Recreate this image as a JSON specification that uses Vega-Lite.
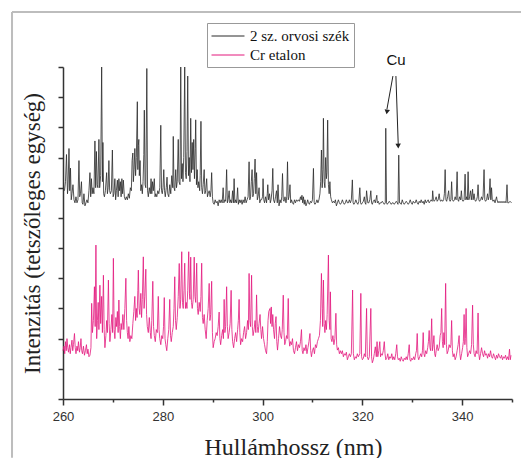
{
"$schema":"https://vega.github.io/schema/vega-lite/v6.json",
"width":449,"height":332,
"autosize":{"type":"none"},
"padding":{"left":63,"top":67,"right":9,"bottom":59},
"background":"white",
"config":{"view":{"stroke":null},"font":"Liberation Serif"},
"datasets":{
"black":[
{"w":260.3,"v":6.9},{"w":260.5,"v":7.2},{"w":260.7,"v":8.1},{"w":260.9,"v":6.8},{"w":261.0,"v":7.0},{"w":261.2,"v":8.3},{"w":261.35,"v":6.9},{"w":261.5,"v":7.65},{"w":261.65,"v":6.6},{"w":261.8,"v":6.8},{"w":262.0,"v":7.1},{"w":262.2,"v":6.6},{"w":262.4,"v":6.5},{"w":262.6,"v":6.7},{"w":262.8,"v":6.5},{"w":263.0,"v":6.6},{"w":263.2,"v":7.9},{"w":263.35,"v":6.7},{"w":263.5,"v":6.8},{"w":263.7,"v":7.2},{"w":263.85,"v":6.5},{"w":264.0,"v":6.45},{"w":264.2,"v":6.8},{"w":264.4,"v":6.4},{"w":264.6,"v":6.5},{"w":264.8,"v":6.6},{"w":265.0,"v":6.5},{"w":265.2,"v":6.9},{"w":265.4,"v":7.5},{"w":265.55,"v":6.7},{"w":265.7,"v":7.3},{"w":265.85,"v":6.8},{"w":266.0,"v":7.0},{"w":266.2,"v":6.8},{"w":266.4,"v":8.55},{"w":266.55,"v":7.0},{"w":266.7,"v":8.2},{"w":266.85,"v":7.1},{"w":267.0,"v":7.0},{"w":267.2,"v":8.6},{"w":267.35,"v":7.0},{"w":267.55,"v":7.4},{"w":267.75,"v":11},{"w":267.9,"v":7.2},{"w":268.0,"v":8.5},{"w":268.15,"v":6.8},{"w":268.3,"v":6.7},{"w":268.5,"v":6.9},{"w":268.75,"v":7.5},{"w":268.9,"v":6.8},{"w":269.05,"v":7.0},{"w":269.2,"v":7.9},{"w":269.35,"v":6.9},{"w":269.5,"v":6.8},{"w":269.7,"v":6.9},{"w":269.9,"v":8.25},{"w":270.05,"v":6.7},{"w":270.2,"v":6.8},{"w":270.4,"v":7.3},{"w":270.55,"v":6.6},{"w":270.7,"v":6.9},{"w":270.9,"v":7.25},{"w":271.05,"v":6.7},{"w":271.2,"v":7.3},{"w":271.35,"v":6.9},{"w":271.5,"v":7.2},{"w":271.65,"v":6.7},{"w":271.8,"v":7.3},{"w":271.95,"v":6.8},{"w":272.1,"v":7.25},{"w":272.3,"v":6.7},{"w":272.5,"v":6.6},{"w":272.7,"v":6.7},{"w":272.9,"v":6.6},{"w":273.1,"v":6.8},{"w":273.3,"v":6.65},{"w":273.5,"v":7.0},{"w":273.7,"v":6.9},{"w":273.85,"v":7.9},{"w":274.0,"v":8.15},{"w":274.1,"v":7.2},{"w":274.25,"v":7.6},{"w":274.4,"v":8.3},{"w":274.55,"v":7.4},{"w":274.7,"v":8.0},{"w":274.9,"v":9.85},{"w":275.0,"v":7.6},{"w":275.1,"v":8.4},{"w":275.2,"v":8.6},{"w":275.3,"v":7.4},{"w":275.45,"v":7.9},{"w":275.6,"v":6.9},{"w":275.75,"v":7.1},{"w":275.9,"v":6.8},{"w":276.05,"v":7.2},{"w":276.2,"v":8.1},{"w":276.3,"v":9.57},{"w":276.45,"v":7.1},{"w":276.6,"v":7.0},{"w":276.8,"v":10.95},{"w":276.95,"v":6.9},{"w":277.1,"v":6.7},{"w":277.3,"v":7.0},{"w":277.5,"v":6.8},{"w":277.65,"v":7.3},{"w":277.8,"v":6.8},{"w":277.95,"v":7.2},{"w":278.1,"v":6.9},{"w":278.3,"v":7.3},{"w":278.45,"v":6.7},{"w":278.6,"v":6.8},{"w":278.8,"v":6.7},{"w":279.0,"v":6.9},{"w":279.2,"v":6.8},{"w":279.4,"v":7.0},{"w":279.6,"v":9.07},{"w":279.75,"v":6.9},{"w":279.9,"v":6.8},{"w":280.05,"v":7.0},{"w":280.2,"v":7.6},{"w":280.35,"v":6.9},{"w":280.5,"v":6.7},{"w":280.7,"v":7.0},{"w":280.85,"v":7.35},{"w":281.0,"v":6.8},{"w":281.2,"v":6.7},{"w":281.4,"v":7.1},{"w":281.6,"v":6.8},{"w":281.8,"v":7.4},{"w":282.0,"v":7.0},{"w":282.1,"v":8.7},{"w":282.25,"v":7.0},{"w":282.4,"v":6.9},{"w":282.6,"v":7.6},{"w":282.75,"v":7.0},{"w":282.9,"v":7.2},{"w":283.1,"v":8.6},{"w":283.25,"v":7.2},{"w":283.45,"v":7.1},{"w":283.6,"v":11},{"w":283.75,"v":7.3},{"w":283.9,"v":7.8},{"w":284.05,"v":7.2},{"w":284.2,"v":8.0},{"w":284.4,"v":11},{"w":284.55,"v":7.5},{"w":284.7,"v":7.3},{"w":284.85,"v":8.2},{"w":285.0,"v":10.7},{"w":285.15,"v":7.4},{"w":285.3,"v":8.0},{"w":285.45,"v":7.2},{"w":285.6,"v":9.3},{"w":285.75,"v":7.5},{"w":285.9,"v":8.5},{"w":286.05,"v":7.6},{"w":286.2,"v":8.6},{"w":286.35,"v":7.3},{"w":286.5,"v":8.3},{"w":286.6,"v":9.25},{"w":286.75,"v":7.1},{"w":286.9,"v":7.6},{"w":287.05,"v":7.0},{"w":287.2,"v":7.2},{"w":287.4,"v":6.9},{"w":287.5,"v":7.4},{"w":287.65,"v":9.2},{"w":287.8,"v":7.0},{"w":287.95,"v":6.8},{"w":288.1,"v":7.1},{"w":288.3,"v":7.6},{"w":288.45,"v":6.8},{"w":288.6,"v":6.9},{"w":288.8,"v":7.3},{"w":288.95,"v":6.7},{"w":289.1,"v":6.8},{"w":289.3,"v":6.9},{"w":289.5,"v":6.7},{"w":289.65,"v":6.9},{"w":289.8,"v":7.5},{"w":289.95,"v":6.7},{"w":290.1,"v":6.5},{"w":290.3,"v":6.45},{"w":290.5,"v":6.6},{"w":290.7,"v":6.5},{"w":290.9,"v":6.55},{"w":291.1,"v":6.4},{"w":291.3,"v":6.6},{"w":291.5,"v":6.5},{"w":291.7,"v":6.6},{"w":291.9,"v":6.5},{"w":292.1,"v":7.0},{"w":292.25,"v":6.5},{"w":292.45,"v":6.6},{"w":292.6,"v":6.55},{"w":292.8,"v":7.6},{"w":292.95,"v":6.5},{"w":293.1,"v":6.6},{"w":293.3,"v":6.9},{"w":293.45,"v":6.5},{"w":293.6,"v":6.6},{"w":293.8,"v":6.5},{"w":294.0,"v":6.9},{"w":294.15,"v":6.5},{"w":294.3,"v":7.3},{"w":294.45,"v":6.5},{"w":294.6,"v":6.6},{"w":294.8,"v":6.5},{"w":295.0,"v":7.0},{"w":295.15,"v":6.45},{"w":295.35,"v":6.6},{"w":295.5,"v":6.5},{"w":295.7,"v":6.6},{"w":295.9,"v":6.45},{"w":296.1,"v":6.6},{"w":296.3,"v":6.5},{"w":296.5,"v":6.7},{"w":296.7,"v":6.5},{"w":296.9,"v":6.6},{"w":297.1,"v":6.7},{"w":297.3,"v":7.86},{"w":297.45,"v":6.6},{"w":297.6,"v":6.7},{"w":297.75,"v":7.2},{"w":297.9,"v":7.6},{"w":298.05,"v":6.7},{"w":298.2,"v":6.8},{"w":298.35,"v":7.3},{"w":298.5,"v":7.95},{"w":298.65,"v":6.8},{"w":298.8,"v":7.5},{"w":298.95,"v":6.6},{"w":299.1,"v":6.7},{"w":299.3,"v":7.0},{"w":299.45,"v":6.5},{"w":299.6,"v":6.6},{"w":299.8,"v":6.6},{"w":300.0,"v":6.7},{"w":300.1,"v":7.3},{"w":300.25,"v":6.6},{"w":300.4,"v":6.5},{"w":300.6,"v":6.7},{"w":300.8,"v":6.5},{"w":300.95,"v":6.8},{"w":301.05,"v":7.1},{"w":301.2,"v":6.6},{"w":301.4,"v":6.8},{"w":301.55,"v":6.5},{"w":301.7,"v":6.6},{"w":301.9,"v":6.9},{"w":302.05,"v":7.64},{"w":302.2,"v":6.6},{"w":302.4,"v":6.5},{"w":302.6,"v":6.7},{"w":302.8,"v":6.9},{"w":302.95,"v":6.5},{"w":303.1,"v":7.1},{"w":303.3,"v":6.4},{"w":303.5,"v":6.6},{"w":303.7,"v":6.5},{"w":303.85,"v":6.7},{"w":304.0,"v":7.47},{"w":304.15,"v":6.6},{"w":304.3,"v":6.55},{"w":304.5,"v":6.7},{"w":304.7,"v":6.5},{"w":304.85,"v":6.7},{"w":305.0,"v":7.86},{"w":305.15,"v":6.6},{"w":305.3,"v":6.7},{"w":305.5,"v":7.1},{"w":305.65,"v":6.5},{"w":305.8,"v":6.6},{"w":306.0,"v":6.5},{"w":306.2,"v":6.45},{"w":306.4,"v":6.6},{"w":306.6,"v":6.5},{"w":306.8,"v":6.6},{"w":307.0,"v":6.55},{"w":307.2,"v":6.6},{"w":307.4,"v":6.55},{"w":307.6,"v":6.7},{"w":307.75,"v":6.6},{"w":307.9,"v":6.75},{"w":308.05,"v":6.5},{"w":308.2,"v":6.7},{"w":308.35,"v":6.45},{"w":308.5,"v":6.6},{"w":308.7,"v":6.4},{"w":308.9,"v":6.5},{"w":309.05,"v":6.6},{"w":309.2,"v":6.5},{"w":309.4,"v":6.45},{"w":309.6,"v":6.55},{"w":309.8,"v":6.5},{"w":310.0,"v":6.6},{"w":310.2,"v":7.64},{"w":310.35,"v":6.5},{"w":310.5,"v":6.45},{"w":310.7,"v":6.5},{"w":310.9,"v":6.6},{"w":311.1,"v":6.5},{"w":311.3,"v":6.6},{"w":311.5,"v":6.8},{"w":311.65,"v":7.2},{"w":311.8,"v":8.25},{"w":311.95,"v":7.0},{"w":312.1,"v":7.6},{"w":312.2,"v":9.3},{"w":312.35,"v":7.2},{"w":312.5,"v":7.0},{"w":312.65,"v":8.0},{"w":312.8,"v":7.3},{"w":312.9,"v":7.5},{"w":313.05,"v":9.24},{"w":313.2,"v":7.1},{"w":313.35,"v":6.8},{"w":313.5,"v":7.2},{"w":313.65,"v":6.7},{"w":313.8,"v":6.6},{"w":314.0,"v":6.5},{"w":314.2,"v":6.55},{"w":314.4,"v":6.5},{"w":314.6,"v":6.6},{"w":314.8,"v":6.4},{"w":315.0,"v":6.5},{"w":315.2,"v":6.6},{"w":315.4,"v":6.5},{"w":315.6,"v":6.45},{"w":315.8,"v":6.5},{"w":316.0,"v":6.6},{"w":316.2,"v":6.5},{"w":316.4,"v":6.45},{"w":316.6,"v":6.5},{"w":316.8,"v":6.6},{"w":317.0,"v":6.5},{"w":317.2,"v":6.5},{"w":317.4,"v":6.6},{"w":317.6,"v":6.5},{"w":317.8,"v":6.6},{"w":318.0,"v":7.26},{"w":318.15,"v":6.5},{"w":318.3,"v":6.45},{"w":318.5,"v":6.5},{"w":318.7,"v":6.6},{"w":318.9,"v":6.5},{"w":319.1,"v":6.45},{"w":319.3,"v":6.55},{"w":319.5,"v":7.0},{"w":319.65,"v":6.5},{"w":319.8,"v":6.45},{"w":320.0,"v":6.5},{"w":320.2,"v":6.55},{"w":320.4,"v":6.7},{"w":320.55,"v":6.5},{"w":320.7,"v":6.45},{"w":320.85,"v":6.9},{"w":321.1,"v":6.5},{"w":321.3,"v":6.5},{"w":321.5,"v":6.6},{"w":321.7,"v":6.9},{"w":321.85,"v":6.5},{"w":322.0,"v":6.45},{"w":322.2,"v":6.55},{"w":322.4,"v":6.6},{"w":322.6,"v":6.5},{"w":322.9,"v":6.75},{"w":323.0,"v":6.5},{"w":323.2,"v":6.55},{"w":323.4,"v":6.45},{"w":323.6,"v":6.5},{"w":323.8,"v":6.5},{"w":324.0,"v":6.55},{"w":324.2,"v":6.5},{"w":324.4,"v":6.45},{"w":324.6,"v":6.5},{"w":324.7,"v":8.97},{"w":324.85,"v":6.5},{"w":325.0,"v":6.45},{"w":325.2,"v":6.5},{"w":325.4,"v":6.55},{"w":325.6,"v":6.5},{"w":325.8,"v":6.45},{"w":326.0,"v":6.5},{"w":326.2,"v":6.5},{"w":326.4,"v":6.45},{"w":326.6,"v":6.5},{"w":326.8,"v":6.55},{"w":327.0,"v":6.5},{"w":327.15,"v":6.45},{"w":327.3,"v":8.08},{"w":327.45,"v":6.5},{"w":327.6,"v":6.5},{"w":327.8,"v":6.45},{"w":328.0,"v":6.6},{"w":328.2,"v":6.5},{"w":328.4,"v":6.45},{"w":328.6,"v":6.5},{"w":328.8,"v":6.55},{"w":329.0,"v":6.5},{"w":329.2,"v":6.45},{"w":329.4,"v":6.5},{"w":329.6,"v":6.6},{"w":329.8,"v":6.5},{"w":330.0,"v":6.45},{"w":330.2,"v":6.55},{"w":330.4,"v":6.5},{"w":330.6,"v":6.5},{"w":330.8,"v":6.6},{"w":331.0,"v":6.5},{"w":331.2,"v":6.45},{"w":331.4,"v":6.55},{"w":331.6,"v":6.5},{"w":331.8,"v":6.6},{"w":332.0,"v":6.5},{"w":332.2,"v":6.55},{"w":332.4,"v":6.45},{"w":332.6,"v":6.6},{"w":332.8,"v":6.5},{"w":333.0,"v":6.55},{"w":333.2,"v":6.6},{"w":333.4,"v":6.5},{"w":333.6,"v":6.55},{"w":333.8,"v":6.6},{"w":334.0,"v":6.55},{"w":334.1,"v":6.9},{"w":334.25,"v":6.6},{"w":334.4,"v":6.55},{"w":334.6,"v":6.6},{"w":334.8,"v":6.7},{"w":335.0,"v":6.55},{"w":335.2,"v":6.6},{"w":335.4,"v":6.8},{"w":335.55,"v":6.6},{"w":335.7,"v":6.55},{"w":335.9,"v":6.6},{"w":336.1,"v":6.55},{"w":336.3,"v":6.6},{"w":336.45,"v":6.8},{"w":336.6,"v":7.6},{"w":336.75,"v":6.6},{"w":336.9,"v":6.55},{"w":337.1,"v":6.7},{"w":337.3,"v":6.9},{"w":337.45,"v":6.6},{"w":337.6,"v":6.55},{"w":337.75,"v":6.6},{"w":337.9,"v":7.2},{"w":338.05,"v":6.6},{"w":338.25,"v":6.55},{"w":338.45,"v":6.6},{"w":338.6,"v":6.7},{"w":338.8,"v":6.6},{"w":339.0,"v":7.53},{"w":339.15,"v":6.6},{"w":339.3,"v":6.55},{"w":339.5,"v":6.7},{"w":339.7,"v":6.6},{"w":339.85,"v":6.9},{"w":340.0,"v":6.6},{"w":340.2,"v":6.55},{"w":340.4,"v":6.6},{"w":340.6,"v":7.45},{"w":340.75,"v":6.6},{"w":340.9,"v":6.7},{"w":341.05,"v":6.6},{"w":341.2,"v":7.53},{"w":341.35,"v":6.6},{"w":341.5,"v":6.7},{"w":341.7,"v":6.9},{"w":341.85,"v":6.6},{"w":342.1,"v":6.95},{"w":342.2,"v":6.6},{"w":342.4,"v":6.8},{"w":342.55,"v":6.6},{"w":342.7,"v":6.55},{"w":342.9,"v":6.6},{"w":343.05,"v":6.7},{"w":343.2,"v":7.1},{"w":343.35,"v":6.6},{"w":343.5,"v":6.55},{"w":343.7,"v":6.6},{"w":343.9,"v":6.7},{"w":344.05,"v":6.6},{"w":344.2,"v":6.7},{"w":344.4,"v":7.6},{"w":344.55,"v":6.6},{"w":344.7,"v":6.55},{"w":344.9,"v":6.6},{"w":345.1,"v":6.8},{"w":345.25,"v":6.6},{"w":345.4,"v":6.7},{"w":345.6,"v":7.3},{"w":345.75,"v":6.6},{"w":345.9,"v":7.0},{"w":346.05,"v":6.6},{"w":346.2,"v":6.55},{"w":346.4,"v":6.6},{"w":346.6,"v":6.5},{"w":346.9,"v":6.7},{"w":347.0,"v":6.6},{"w":347.2,"v":6.5},{"w":347.4,"v":6.55},{"w":347.6,"v":6.5},{"w":347.8,"v":6.55},{"w":348.0,"v":6.5},{"w":348.2,"v":6.55},{"w":348.4,"v":6.5},{"w":348.6,"v":6.55},{"w":348.8,"v":6.5},{"w":349.0,"v":7.1},{"w":349.15,"v":6.5},{"w":349.35,"v":6.5},{"w":349.6,"v":6.55},{"w":349.9,"v":6.5}
],
"pink":[
{"w":260.0,"v":1.6},{"w":260.2,"v":1.75},{"w":260.35,"v":1.5},{"w":260.5,"v":1.9},{"w":260.65,"v":1.6},{"w":260.8,"v":2.0},{"w":260.95,"v":1.7},{"w":261.1,"v":1.55},{"w":261.3,"v":1.8},{"w":261.45,"v":1.5},{"w":261.6,"v":1.7},{"w":261.8,"v":1.95},{"w":261.95,"v":1.6},{"w":262.1,"v":1.8},{"w":262.3,"v":2.17},{"w":262.45,"v":1.7},{"w":262.6,"v":1.5},{"w":262.8,"v":1.75},{"w":262.95,"v":1.6},{"w":263.1,"v":1.9},{"w":263.3,"v":1.55},{"w":263.45,"v":1.7},{"w":263.6,"v":2.0},{"w":263.75,"v":1.6},{"w":263.9,"v":1.5},{"w":264.1,"v":1.75},{"w":264.3,"v":1.45},{"w":264.5,"v":1.6},{"w":264.7,"v":1.8},{"w":264.85,"v":1.5},{"w":265.0,"v":1.65},{"w":265.2,"v":1.4},{"w":265.4,"v":1.45},{"w":265.6,"v":1.7},{"w":265.75,"v":3.17},{"w":265.9,"v":2.2},{"w":266.1,"v":2.6},{"w":266.3,"v":3.72},{"w":266.45,"v":2.4},{"w":266.6,"v":5.1},{"w":266.75,"v":2.0},{"w":266.9,"v":2.6},{"w":267.05,"v":3.2},{"w":267.2,"v":2.3},{"w":267.4,"v":3.77},{"w":267.55,"v":2.5},{"w":267.75,"v":3.4},{"w":267.9,"v":2.2},{"w":268.1,"v":4.1},{"w":268.25,"v":2.3},{"w":268.4,"v":1.7},{"w":268.6,"v":2.1},{"w":268.75,"v":2.6},{"w":268.9,"v":2.2},{"w":269.1,"v":3.94},{"w":269.25,"v":2.5},{"w":269.4,"v":1.9},{"w":269.6,"v":2.3},{"w":269.8,"v":2.8},{"w":269.95,"v":2.2},{"w":270.1,"v":4.66},{"w":270.25,"v":2.3},{"w":270.4,"v":2.0},{"w":270.6,"v":2.7},{"w":270.75,"v":2.4},{"w":270.9,"v":2.9},{"w":271.05,"v":2.2},{"w":271.2,"v":3.28},{"w":271.35,"v":2.4},{"w":271.5,"v":2.0},{"w":271.65,"v":2.5},{"w":271.8,"v":2.3},{"w":272.0,"v":2.8},{"w":272.2,"v":2.3},{"w":272.4,"v":3.0},{"w":272.6,"v":4.0},{"w":272.75,"v":2.6},{"w":272.9,"v":2.2},{"w":273.05,"v":2.0},{"w":273.2,"v":2.4},{"w":273.4,"v":1.9},{"w":273.6,"v":2.1},{"w":273.8,"v":2.0},{"w":274.0,"v":2.5},{"w":274.2,"v":2.9},{"w":274.4,"v":3.4},{"w":274.55,"v":2.6},{"w":274.7,"v":3.0},{"w":274.85,"v":2.7},{"w":275.0,"v":3.6},{"w":275.1,"v":4.27},{"w":275.25,"v":3.0},{"w":275.4,"v":2.8},{"w":275.6,"v":3.5},{"w":275.75,"v":2.7},{"w":275.9,"v":3.3},{"w":276.1,"v":4.71},{"w":276.25,"v":3.0},{"w":276.4,"v":3.4},{"w":276.6,"v":4.3},{"w":276.75,"v":2.8},{"w":276.9,"v":2.4},{"w":277.1,"v":2.2},{"w":277.3,"v":2.7},{"w":277.5,"v":2.2},{"w":277.65,"v":2.0},{"w":277.8,"v":2.6},{"w":278.0,"v":3.9},{"w":278.15,"v":2.4},{"w":278.3,"v":2.1},{"w":278.5,"v":1.9},{"w":278.7,"v":2.3},{"w":278.9,"v":2.2},{"w":279.1,"v":3.4},{"w":279.25,"v":2.3},{"w":279.4,"v":2.0},{"w":279.6,"v":1.8},{"w":279.8,"v":2.1},{"w":280.0,"v":2.0},{"w":280.15,"v":2.4},{"w":280.3,"v":3.36},{"w":280.45,"v":2.0},{"w":280.6,"v":1.8},{"w":280.8,"v":1.6},{"w":281.0,"v":2.0},{"w":281.2,"v":2.3},{"w":281.4,"v":3.3},{"w":281.55,"v":2.1},{"w":281.7,"v":1.9},{"w":281.9,"v":2.2},{"w":282.1,"v":2.4},{"w":282.25,"v":3.0},{"w":282.4,"v":4.05},{"w":282.55,"v":2.6},{"w":282.7,"v":2.3},{"w":282.9,"v":2.7},{"w":283.1,"v":3.4},{"w":283.3,"v":4.49},{"w":283.45,"v":3.0},{"w":283.6,"v":3.3},{"w":283.8,"v":4.88},{"w":283.95,"v":3.2},{"w":284.1,"v":3.0},{"w":284.25,"v":3.6},{"w":284.4,"v":4.5},{"w":284.55,"v":3.0},{"w":284.7,"v":3.2},{"w":284.85,"v":3.0},{"w":285.0,"v":3.6},{"w":285.2,"v":4.88},{"w":285.35,"v":3.5},{"w":285.45,"v":3.3},{"w":285.6,"v":4.7},{"w":285.75,"v":3.2},{"w":285.9,"v":3.0},{"w":286.1,"v":3.3},{"w":286.3,"v":4.7},{"w":286.45,"v":3.4},{"w":286.6,"v":3.2},{"w":286.8,"v":4.5},{"w":286.95,"v":3.0},{"w":287.1,"v":2.8},{"w":287.3,"v":3.2},{"w":287.5,"v":2.9},{"w":287.65,"v":3.4},{"w":287.8,"v":4.5},{"w":287.95,"v":2.7},{"w":288.1,"v":2.5},{"w":288.3,"v":2.8},{"w":288.5,"v":2.3},{"w":288.7,"v":2.0},{"w":288.9,"v":2.6},{"w":289.1,"v":3.0},{"w":289.3,"v":3.83},{"w":289.45,"v":2.6},{"w":289.6,"v":2.8},{"w":289.8,"v":3.9},{"w":289.95,"v":2.2},{"w":290.1,"v":1.7},{"w":290.3,"v":1.9},{"w":290.5,"v":2.0},{"w":290.7,"v":2.2},{"w":290.9,"v":2.1},{"w":291.1,"v":2.4},{"w":291.3,"v":2.88},{"w":291.45,"v":2.0},{"w":291.6,"v":1.8},{"w":291.8,"v":2.1},{"w":292.0,"v":2.3},{"w":292.15,"v":2.0},{"w":292.3,"v":3.3},{"w":292.45,"v":2.2},{"w":292.6,"v":2.4},{"w":292.8,"v":3.72},{"w":292.95,"v":2.4},{"w":293.1,"v":2.0},{"w":293.3,"v":2.2},{"w":293.5,"v":2.5},{"w":293.7,"v":3.6},{"w":293.85,"v":2.3},{"w":294.0,"v":1.9},{"w":294.2,"v":1.7},{"w":294.4,"v":2.0},{"w":294.6,"v":2.2},{"w":294.8,"v":1.9},{"w":295.0,"v":2.3},{"w":295.15,"v":2.6},{"w":295.3,"v":3.3},{"w":295.45,"v":2.2},{"w":295.6,"v":1.8},{"w":295.8,"v":2.0},{"w":296.0,"v":1.9},{"w":296.2,"v":2.2},{"w":296.4,"v":2.4},{"w":296.6,"v":2.0},{"w":296.8,"v":2.2},{"w":297.0,"v":2.6},{"w":297.15,"v":2.3},{"w":297.3,"v":4.16},{"w":297.45,"v":2.6},{"w":297.6,"v":2.4},{"w":297.8,"v":4.1},{"w":297.95,"v":2.4},{"w":298.1,"v":2.1},{"w":298.3,"v":2.3},{"w":298.5,"v":2.6},{"w":298.65,"v":2.2},{"w":298.8,"v":3.45},{"w":298.95,"v":2.4},{"w":299.1,"v":2.2},{"w":299.3,"v":2.5},{"w":299.5,"v":2.8},{"w":299.65,"v":2.3},{"w":299.8,"v":2.0},{"w":300.0,"v":2.4},{"w":300.2,"v":2.0},{"w":300.4,"v":1.8},{"w":300.6,"v":1.6},{"w":300.8,"v":1.5},{"w":300.95,"v":1.9},{"w":301.1,"v":2.6},{"w":301.25,"v":2.9},{"w":301.5,"v":3.0},{"w":301.6,"v":2.5},{"w":301.75,"v":3.05},{"w":301.9,"v":2.4},{"w":302.05,"v":2.8},{"w":302.2,"v":2.3},{"w":302.4,"v":2.0},{"w":302.55,"v":2.5},{"w":302.7,"v":2.73},{"w":302.85,"v":1.9},{"w":303.0,"v":1.62},{"w":303.2,"v":2.0},{"w":303.4,"v":2.4},{"w":303.6,"v":2.1},{"w":303.8,"v":2.0},{"w":303.95,"v":2.3},{"w":304.15,"v":3.44},{"w":304.3,"v":2.2},{"w":304.45,"v":1.8},{"w":304.6,"v":1.9},{"w":304.8,"v":2.1},{"w":304.95,"v":2.0},{"w":305.15,"v":3.33},{"w":305.3,"v":2.0},{"w":305.45,"v":1.75},{"w":305.6,"v":1.9},{"w":305.8,"v":1.8},{"w":306.0,"v":2.0},{"w":306.2,"v":1.6},{"w":306.4,"v":1.5},{"w":306.6,"v":1.7},{"w":306.8,"v":1.9},{"w":307.0,"v":1.6},{"w":307.2,"v":1.8},{"w":307.4,"v":1.7},{"w":307.6,"v":1.9},{"w":307.8,"v":2.3},{"w":307.95,"v":1.6},{"w":308.1,"v":1.5},{"w":308.3,"v":1.7},{"w":308.5,"v":1.6},{"w":308.7,"v":1.8},{"w":308.9,"v":1.5},{"w":309.1,"v":1.7},{"w":309.3,"v":1.9},{"w":309.5,"v":2.17},{"w":309.65,"v":1.6},{"w":309.8,"v":1.4},{"w":310.0,"v":1.6},{"w":310.2,"v":1.7},{"w":310.4,"v":1.5},{"w":310.6,"v":1.8},{"w":310.8,"v":1.7},{"w":311.0,"v":1.9},{"w":311.2,"v":2.0},{"w":311.4,"v":2.1},{"w":311.6,"v":2.6},{"w":311.8,"v":4.16},{"w":311.95,"v":3.0},{"w":312.05,"v":2.4},{"w":312.2,"v":3.94},{"w":312.35,"v":2.5},{"w":312.5,"v":2.2},{"w":312.65,"v":2.6},{"w":312.8,"v":2.3},{"w":312.95,"v":2.8},{"w":313.2,"v":4.77},{"w":313.35,"v":2.6},{"w":313.5,"v":2.3},{"w":313.6,"v":3.55},{"w":313.75,"v":2.0},{"w":313.9,"v":1.9},{"w":314.1,"v":2.1},{"w":314.3,"v":1.8},{"w":314.5,"v":2.0},{"w":314.7,"v":2.84},{"w":314.85,"v":1.8},{"w":315.0,"v":1.62},{"w":315.2,"v":1.7},{"w":315.4,"v":1.5},{"w":315.6,"v":1.6},{"w":315.8,"v":1.5},{"w":316.0,"v":1.6},{"w":316.2,"v":1.4},{"w":316.4,"v":1.5},{"w":316.6,"v":1.45},{"w":316.8,"v":1.55},{"w":317.0,"v":1.3},{"w":317.2,"v":1.4},{"w":317.4,"v":1.5},{"w":317.6,"v":1.4},{"w":317.8,"v":1.5},{"w":318.05,"v":3.61},{"w":318.2,"v":1.5},{"w":318.4,"v":1.3},{"w":318.6,"v":1.4},{"w":318.8,"v":1.35},{"w":319.0,"v":1.5},{"w":319.2,"v":1.4},{"w":319.5,"v":1.5},{"w":319.7,"v":3.5},{"w":319.85,"v":1.4},{"w":320.0,"v":1.3},{"w":320.2,"v":1.35},{"w":320.4,"v":1.5},{"w":320.6,"v":1.4},{"w":320.85,"v":3.0},{"w":321.0,"v":1.4},{"w":321.2,"v":1.3},{"w":321.4,"v":1.4},{"w":321.7,"v":3.0},{"w":321.85,"v":1.4},{"w":322.0,"v":1.2},{"w":322.2,"v":1.3},{"w":322.4,"v":1.5},{"w":322.6,"v":1.73},{"w":322.8,"v":1.4},{"w":322.95,"v":1.9},{"w":323.1,"v":1.4},{"w":323.3,"v":1.6},{"w":323.5,"v":1.9},{"w":323.65,"v":1.4},{"w":323.8,"v":1.5},{"w":324.0,"v":1.45},{"w":324.2,"v":1.6},{"w":324.4,"v":1.9},{"w":324.55,"v":1.5},{"w":324.7,"v":1.3},{"w":324.9,"v":1.35},{"w":325.1,"v":1.5},{"w":325.3,"v":1.3},{"w":325.5,"v":1.4},{"w":325.7,"v":1.35},{"w":325.9,"v":1.5},{"w":326.1,"v":1.3},{"w":326.3,"v":1.4},{"w":326.5,"v":1.3},{"w":326.7,"v":1.5},{"w":326.9,"v":1.8},{"w":327.05,"v":1.4},{"w":327.2,"v":1.3},{"w":327.4,"v":1.35},{"w":327.6,"v":1.25},{"w":327.8,"v":1.4},{"w":328.0,"v":1.3},{"w":328.2,"v":1.25},{"w":328.4,"v":1.35},{"w":328.6,"v":1.3},{"w":328.8,"v":1.4},{"w":329.0,"v":1.3},{"w":329.2,"v":1.5},{"w":329.4,"v":1.8},{"w":329.55,"v":1.3},{"w":329.7,"v":1.25},{"w":329.9,"v":1.35},{"w":330.1,"v":1.3},{"w":330.3,"v":1.4},{"w":330.5,"v":1.3},{"w":330.7,"v":1.5},{"w":330.85,"v":1.6},{"w":331.0,"v":2.17},{"w":331.15,"v":1.4},{"w":331.3,"v":1.3},{"w":331.5,"v":1.4},{"w":331.7,"v":1.5},{"w":331.9,"v":1.4},{"w":332.05,"v":1.6},{"w":332.2,"v":2.2},{"w":332.35,"v":1.5},{"w":332.5,"v":1.4},{"w":332.7,"v":1.6},{"w":332.9,"v":1.5},{"w":333.1,"v":1.7},{"w":333.25,"v":1.9},{"w":333.4,"v":2.27},{"w":333.55,"v":1.7},{"w":333.7,"v":1.6},{"w":333.9,"v":2.66},{"w":334.05,"v":1.6},{"w":334.2,"v":1.8},{"w":334.35,"v":2.1},{"w":334.5,"v":1.5},{"w":334.65,"v":1.4},{"w":334.8,"v":1.6},{"w":335.0,"v":1.8},{"w":335.2,"v":1.6},{"w":335.4,"v":1.7},{"w":335.6,"v":2.1},{"w":335.75,"v":2.2},{"w":335.9,"v":3.0},{"w":336.05,"v":1.9},{"w":336.2,"v":1.7},{"w":336.35,"v":2.2},{"w":336.5,"v":1.8},{"w":336.7,"v":3.83},{"w":336.85,"v":1.8},{"w":337.0,"v":1.5},{"w":337.2,"v":1.6},{"w":337.4,"v":1.8},{"w":337.6,"v":1.7},{"w":337.75,"v":1.8},{"w":337.9,"v":2.6},{"w":338.05,"v":1.6},{"w":338.2,"v":1.4},{"w":338.4,"v":1.5},{"w":338.6,"v":1.3},{"w":338.8,"v":1.4},{"w":339.0,"v":1.6},{"w":339.2,"v":1.8},{"w":339.4,"v":2.1},{"w":339.55,"v":1.5},{"w":339.7,"v":1.3},{"w":339.9,"v":1.5},{"w":340.1,"v":1.7},{"w":340.25,"v":1.9},{"w":340.4,"v":2.8},{"w":340.55,"v":1.8},{"w":340.65,"v":2.0},{"w":340.8,"v":3.0},{"w":340.95,"v":1.7},{"w":341.1,"v":1.4},{"w":341.3,"v":1.5},{"w":341.5,"v":1.6},{"w":341.7,"v":1.5},{"w":341.9,"v":1.8},{"w":342.1,"v":3.11},{"w":342.25,"v":1.8},{"w":342.4,"v":1.5},{"w":342.6,"v":1.4},{"w":342.8,"v":1.6},{"w":343.0,"v":1.5},{"w":343.2,"v":2.85},{"w":343.35,"v":1.5},{"w":343.5,"v":1.3},{"w":343.7,"v":1.5},{"w":343.9,"v":1.7},{"w":344.1,"v":1.5},{"w":344.3,"v":1.4},{"w":344.5,"v":1.6},{"w":344.7,"v":1.45},{"w":344.9,"v":1.5},{"w":345.1,"v":1.35},{"w":345.3,"v":1.5},{"w":345.5,"v":1.4},{"w":345.7,"v":1.6},{"w":345.9,"v":1.4},{"w":346.1,"v":1.35},{"w":346.3,"v":1.5},{"w":346.5,"v":1.4},{"w":346.7,"v":1.3},{"w":346.9,"v":1.45},{"w":347.1,"v":1.35},{"w":347.3,"v":1.5},{"w":347.5,"v":1.4},{"w":347.7,"v":1.35},{"w":347.9,"v":1.45},{"w":348.1,"v":1.3},{"w":348.3,"v":1.4},{"w":348.5,"v":1.35},{"w":348.7,"v":1.45},{"w":348.9,"v":1.3},{"w":349.1,"v":1.4},{"w":349.3,"v":1.3},{"w":349.5,"v":1.65},{"w":349.65,"v":1.3},{"w":349.8,"v":1.45}
],
"frame":[{"w":249.78,"v":12.82,"w2":249.78,"v2":-1.95},{"w":249.78,"v":12.82,"w2":351.8,"v2":12.82}],
"arrows":[{"w":326.13,"v":10.7,"w2":324.93,"v2":9.6},{"w":326.73,"v":10.7,"w2":327.19,"v2":8.45}],
"head1":[{"w":324.93,"v":9.51}],
"head2":[{"w":327.19,"v":8.38}],
"label":[{"w":326.75,"v":11.23,"t":"Cu"}]
},
"layer":[
{"data":{"name":"frame"},"mark":{"type":"rule","color":"#bdbdbd","strokeWidth":2},
 "encoding":{"x":{"field":"w","type":"quantitative"},"y":{"field":"v","type":"quantitative"},"x2":{"field":"w2"},"y2":{"field":"v2"}}},
{"data":{"name":"black"},"mark":{"type":"line","strokeWidth":0.8},
 "encoding":{
  "x":{"field":"w","type":"quantitative","scale":{"domain":[260,350],"nice":false,"zero":false},
   "axis":{"values":[260,270,280,290,300,310,320,330,340,350],"tickCount":20,"labelExpr":"datum.value % 20 === 0 ? datum.label : ''",
    "tickSize":{"condition":{"test":"datum.value % 20 === 0","value":6},"value":3},
    "grid":false,"domainColor":"#333","domainWidth":1.5,"tickColor":"#333","tickWidth":1.5,
    "labelFont":"Liberation Sans","labelFontSize":13,"labelColor":"#333","labelPadding":5,"labelFlush":false,"labelOverlap":false,
    "title":"Hullámhossz (nm)","titleFont":"Liberation Serif","titleFontSize":24,"titleFontWeight":"normal","titleColor":"#222","titlePadding":12,"titleX":230}},
  "y":{"field":"v","type":"quantitative","scale":{"domain":[0,11],"nice":false,"zero":false},
   "axis":{"values":[0,1,2,3,4,5,6,7,8,9,10,11],"tickCount":20,"labels":false,"tickSize":5,"grid":false,
    "domainColor":"#333","domainWidth":1.5,"tickColor":"#333","tickWidth":1.5,
    "title":"Intenzitás (tetszőleges egység)","titleFont":"Liberation Serif","titleFontSize":23,"titleFontWeight":"normal","titleColor":"#222","titlePadding":13}},
  "color":{"datum":"2 sz. orvosi szék","type":"nominal",
   "scale":{"domain":["2 sz. orvosi szék","Cr etalon"],"range":["#2a2a2a","#e3187d"]},
   "legend":{"orient":"none","legendX":144,"legendY":-44,"title":null,"strokeColor":"#999","padding":4,
    "symbolType":"M-2,0H2","symbolSize":272,"symbolOffset":8,"symbolStrokeWidth":1,"labelFont":"Liberation Serif","labelFontSize":15,"labelColor":"#111","labelOffset":13,"rowPadding":2}}
 }},
{"data":{"name":"pink"},"mark":{"type":"line","strokeWidth":0.8},
 "encoding":{"x":{"field":"w","type":"quantitative"},"y":{"field":"v","type":"quantitative"},"color":{"datum":"Cr etalon","type":"nominal"}}},
{"data":{"name":"arrows"},"mark":{"type":"rule","color":"#222","strokeWidth":1},
 "encoding":{"x":{"field":"w","type":"quantitative"},"y":{"field":"v","type":"quantitative"},"x2":{"field":"w2"},"y2":{"field":"v2"}}},
{"data":{"name":"head1"},"mark":{"type":"point","shape":"triangle-down","filled":true,"color":"#222","size":30,"angle":9,"opacity":1},
 "encoding":{"x":{"field":"w","type":"quantitative"},"y":{"field":"v","type":"quantitative"}}},
{"data":{"name":"head2"},"mark":{"type":"point","shape":"triangle-down","filled":true,"color":"#222","size":30,"angle":-2,"opacity":1},
 "encoding":{"x":{"field":"w","type":"quantitative"},"y":{"field":"v","type":"quantitative"}}},
{"data":{"name":"label"},"mark":{"type":"text","font":"Liberation Sans","fontSize":15,"color":"#111","baseline":"middle","align":"center"},
 "encoding":{"x":{"field":"w","type":"quantitative"},"y":{"field":"v","type":"quantitative"},"text":{"field":"t"}}}
]
}
